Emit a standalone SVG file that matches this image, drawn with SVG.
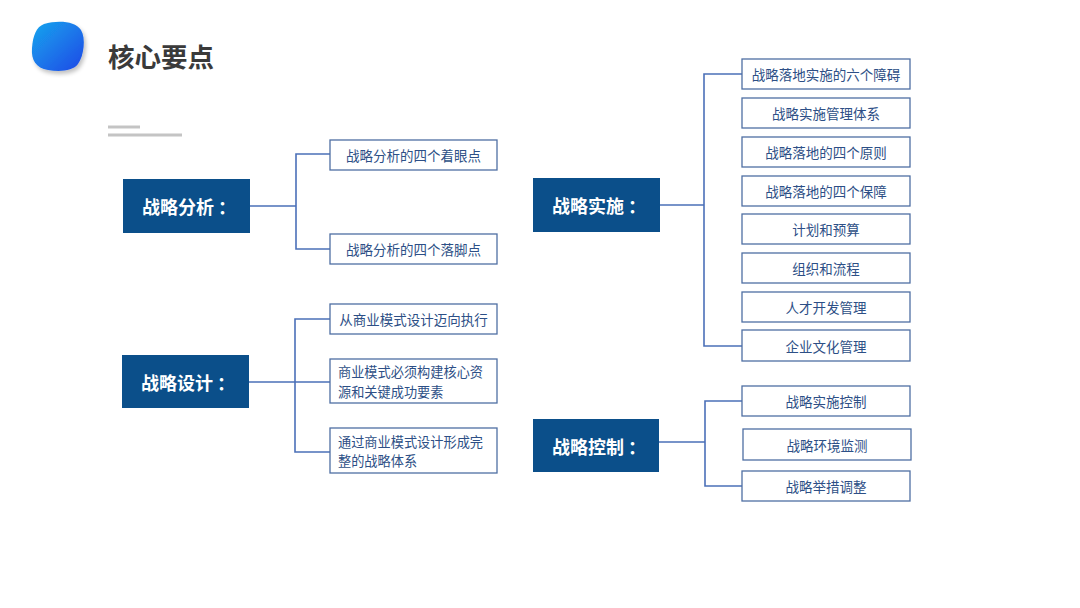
<svg xmlns="http://www.w3.org/2000/svg" width="1080" height="608" viewBox="0 0 1080 608">
<defs>
<linearGradient id="lg" x1="0" y1="0" x2="1" y2="1">
<stop offset="0" stop-color="#17a6ee"/>
<stop offset="1" stop-color="#1f48e6"/>
</linearGradient>
<filter id="sh" x="-30%" y="-30%" width="160%" height="160%">
<feGaussianBlur in="SourceAlpha" stdDeviation="2"/>
<feOffset dx="2" dy="3"/>
<feComponentTransfer><feFuncA type="linear" slope="0.25"/></feComponentTransfer>
<feMerge><feMergeNode/><feMergeNode in="SourceGraphic"/></feMerge>
</filter>
</defs>
<style>
text{font-family:"Noto Sans CJK SC","Microsoft YaHei",sans-serif}
.main rect{fill:#0b4f8a}
.main text{fill:#fff;font-size:18px;font-weight:bold;dominant-baseline:central}
.leaf rect{fill:#fff;stroke:#4f6fa3;stroke-width:1.3}
.leaf text{fill:#2d4f86;font-size:13.5px;dominant-baseline:central}
.leaf text.m{font-size:13.2px}
.c{text-anchor:middle}
.conn path{fill:none;stroke:#4b70b8;stroke-width:1.6}
</style>
<rect width="1080" height="608" fill="#fff"/>
<g id="logo">
<path d="M44 24 C58 20 75 21 81 30 C86 38 84 56 78 64 C73 71 60 72 48 70 C36 68 31 60 32 48 C33 36 36 27 44 24 Z" fill="url(#lg)" filter="url(#sh)"/>
</g>
<g id="title">
<text x="108" y="55" font-size="26.5" font-weight="bold" fill="#3a3a3a" dominant-baseline="central">核心要点</text>
<line x1="108" y1="127" x2="140" y2="127" stroke="#c4c4c4" stroke-width="3"/>
<line x1="108" y1="135" x2="182" y2="135" stroke="#c4c4c4" stroke-width="3"/>
</g>
<g id="connectors" class="conn">
<path d="M250 206 H296 M330 154 H296 V249 H330"/>
<path d="M249 382 H295 M330 319 H295 V452 H330 M295 382 H330"/>
<path d="M660 205 H704 M742 74 H704 V346 H742"/>
<path d="M659 442 H705 M742 401 H705 V486 H742"/>
</g>
<g id="n-analysis" class="main"><rect x="123" y="179" width="127" height="54"/><text x="142" y="206">战略分析<tspan dx="4">：</tspan></text></g>
<g id="n-design" class="main"><rect x="122" y="355" width="127" height="53"/><text x="141" y="382">战略设计<tspan dx="4">：</tspan></text></g>
<g id="n-impl" class="main"><rect x="533" y="178" width="127" height="54"/><text x="552" y="205">战略实施<tspan dx="4">：</tspan></text></g>
<g id="n-control" class="main"><rect x="533" y="419" width="126" height="53"/><text x="552" y="446">战略控制<tspan dx="4">：</tspan></text></g>

<g id="a1" class="leaf"><rect x="330" y="140" width="167" height="30"/><text class="c" x="413.5" y="155">战略分析的四个着眼点</text></g>
<g id="a2" class="leaf"><rect x="330" y="234" width="167" height="30"/><text class="c" x="413.5" y="249">战略分析的四个落脚点</text></g>

<g id="d1" class="leaf"><rect x="330" y="304" width="167" height="30"/><text class="c" x="413.5" y="319">从商业模式设计迈向执行</text></g>
<g id="d2" class="leaf"><rect x="330" y="359" width="167" height="44"/><text class="m" x="338" y="371.5">商业模式必须构建核心资<tspan x="338" dy="19">源和关键成功要素</tspan></text></g>
<g id="d3" class="leaf"><rect x="330" y="428" width="167" height="45"/><text class="m" x="338" y="441">通过商业模式设计形成完<tspan x="338" dy="19">整的战略体系</tspan></text></g>

<g id="i1" class="leaf"><rect x="742" y="59" width="168" height="30"/><text class="c" x="826" y="74">战略落地实施的六个障碍</text></g>
<g id="i2" class="leaf"><rect x="742" y="98" width="168" height="30"/><text class="c" x="826" y="113">战略实施管理体系</text></g>
<g id="i3" class="leaf"><rect x="742" y="137" width="168" height="30"/><text class="c" x="826" y="152">战略落地的四个原则</text></g>
<g id="i4" class="leaf"><rect x="742" y="176" width="168" height="30"/><text class="c" x="826" y="191">战略落地的四个保障</text></g>
<g id="i5" class="leaf"><rect x="742" y="214" width="168" height="30"/><text class="c" x="826" y="229">计划和预算</text></g>
<g id="i6" class="leaf"><rect x="742" y="253" width="168" height="30"/><text class="c" x="826" y="268">组织和流程</text></g>
<g id="i7" class="leaf"><rect x="742" y="292" width="168" height="30"/><text class="c" x="826" y="307">人才开发管理</text></g>
<g id="i8" class="leaf"><rect x="742" y="330" width="168" height="31"/><text class="c" x="826" y="345.5">企业文化管理</text></g>

<g id="k1" class="leaf"><rect x="742" y="386" width="168" height="30"/><text class="c" x="826" y="401">战略实施控制</text></g>
<g id="k2" class="leaf"><rect x="743" y="429" width="168" height="31"/><text class="c" x="827" y="444.5">战略环境监测</text></g>
<g id="k3" class="leaf"><rect x="742" y="471" width="168" height="30"/><text class="c" x="826" y="486">战略举措调整</text></g>
</svg>
